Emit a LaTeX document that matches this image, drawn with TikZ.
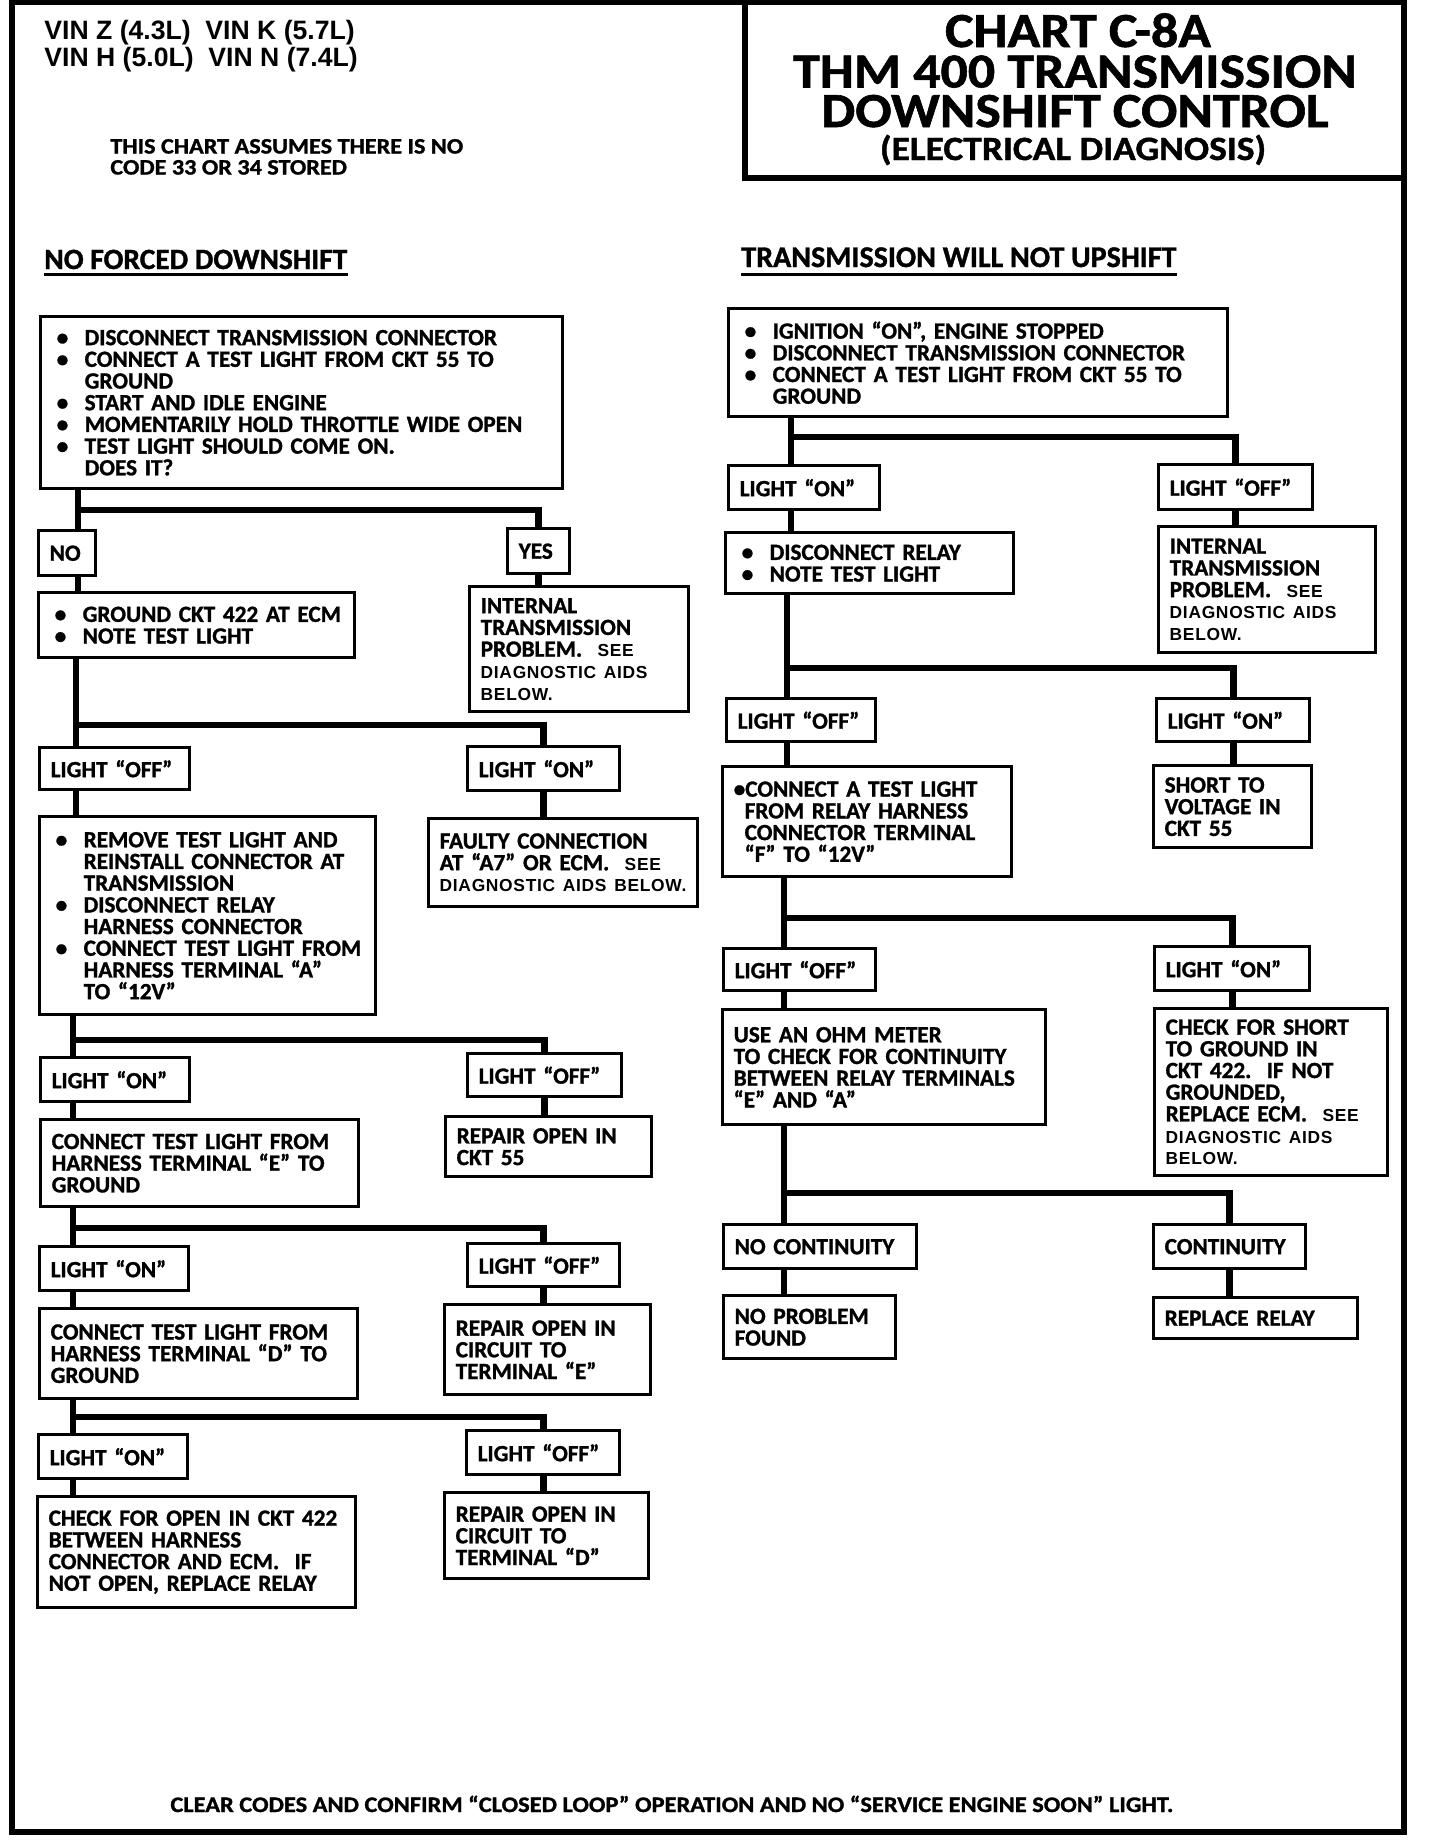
\documentclass[tikz,border=0pt]{standalone}
\usepackage{fontspec}
\setmainfont{Carlito}[Ligatures=TeX,BoldFeatures={FakeBold=1.2}]
\newfontfamily\arialfont{Liberation Sans}[Ligatures=TeX,LetterSpace=4]
\newfontfamily\vinfont{Liberation Sans}
\newfontfamily\titlefont{Carlito}[Ligatures=TeX,FakeStretch=1.1,BoldFeatures={FakeBold=1.2}]
\usetikzlibrary{calc}

\newcommand{\boxfont}{\fontsize{11.6}{10.85}\selectfont\bfseries}
\newcommand{\bl}{\makebox[16.5pt][l]{\hspace{2.5pt}\textbullet}}
\newcommand{\hg}{\hspace*{16.5pt}}
\newcommand{\see}[1]{{\arialfont\bfseries\fontsize{8.7}{10.85}\selectfont #1}}

\tikzset{
  box/.style 2 args={draw,line width=1.7pt,anchor=north west,inner xsep=5.5pt,inner ysep=0pt,
    minimum width={#1*0.5pt},minimum height={#2*0.5pt},text width={#1*0.5pt-11pt},
    align=left,font=\boxfont},
  trunk/.style={line width=3.4pt},
  frame/.style={line width=2.6pt},
  hdr/.style={anchor=base west,inner sep=0pt},
  ttl/.style={anchor=base,inner sep=0pt,text height=16pt,text depth=0pt}
}

\begin{document}
\begin{tikzpicture}[x=0.5pt,y=-0.5pt]
\useasboundingbox (0,0) rectangle (1440,1848);
\fill[white] (0,0) rectangle (1440,1848);

% frame and title block
\draw[frame] (12,2) rectangle (1404,1832);
\draw[frame] (745,2) -- (745,178) -- (1404,178);
\node[ttl,font=\titlefont\bfseries\fontsize{24.5}{20}\selectfont] (ttl1) at (1078,47) {CHART C-8A};
\node[ttl,font=\titlefont\bfseries\fontsize{24.5}{20}\selectfont] (ttl2) at (1075,87.5) {THM 400 TRANSMISSION};
\node[ttl,font=\titlefont\bfseries\fontsize{24.5}{20}\selectfont] (ttl3) at (1075,127) {DOWNSHIFT CONTROL};
\node[ttl,text height=11.5pt,text depth=3pt,font=\titlefont\bfseries\fontsize{17}{20}\selectfont] (ttl4) at (1073,160) {(ELECTRICAL DIAGNOSIS)};

% header texts
\node[hdr,font=\vinfont\bfseries\fontsize{13.3}{13.5}\selectfont] (vin1) at (44,39.5) {VIN Z (4.3L)\ \ VIN K (5.7L)};
\node[hdr,font=\vinfont\bfseries\fontsize{13.3}{13.5}\selectfont] (vin2) at (44,66.5) {VIN H (5.0L)\ \ VIN N (7.4L)};
\node[hdr,font=\titlefont\bfseries\fontsize{11}{10.5}\selectfont] (asm1) at (110,153.5) {THIS CHART ASSUMES THERE IS NO};
\node[hdr,font=\titlefont\bfseries\fontsize{11}{10.5}\selectfont] (asm2) at (110,174.5) {CODE 33 OR 34 STORED};
\node[hdr,inner ysep=2.5pt,font=\bfseries\fontsize{14.7}{14}\selectfont] (nfd) at (44,269) {NO FORCED DOWNSHIFT};
\draw[line width=1.4pt] (nfd.south west) -- (nfd.south east);
\node[hdr,inner ysep=3.5pt,font=\bfseries\fontsize{15}{14}\selectfont] (tnu) at (741,267) {TRANSMISSION WILL NOT UPSHIFT};
\draw[line width=1.4pt] (tnu.south west) -- (tnu.south east);

% left chart: no forced downshift
\node[box={522}{172}] (b1) at (39,315) {\bl DISCONNECT TRANSMISSION CONNECTOR\\
  \bl CONNECT A TEST LIGHT FROM CKT 55 TO\\ \hg GROUND\\ \bl START AND IDLE ENGINE\\
  \bl MOMENTARILY HOLD THROTTLE WIDE OPEN\\ \bl TEST LIGHT SHOULD COME ON.\\ \hg DOES IT?};
\node[box={57}{45}] (no) at (37,529) {NO};
\node[box={62}{45}] (yes) at (506,527) {YES};
\node[box={316}{65}] (gnd) at (37,591) {\bl GROUND CKT 422 AT ECM\\ \bl NOTE TEST LIGHT};
\node[box={219}{125}] (intl) at (468,585) {INTERNAL\\ TRANSMISSION\\ PROBLEM.\ \ \see{SEE}\\
  \see{DIAGNOSTIC AIDS}\\ \see{BELOW.}};
\node[box={150}{42}] (loff1) at (38,746) {LIGHT “OFF”};
\node[box={152}{44}] (lon1) at (466,745) {LIGHT “ON”};
\node[box={336}{198}] (rem) at (38,815) {\bl REMOVE TEST LIGHT AND\\ \hg REINSTALL CONNECTOR AT\\
  \hg TRANSMISSION\\ \bl DISCONNECT RELAY\\ \hg HARNESS CONNECTOR\\ \bl CONNECT TEST LIGHT FROM\\
  \hg HARNESS TERMINAL “A”\\ \hg TO “12V”};
\node[box={269}{88}] (faulty) at (427,817) {FAULTY CONNECTION\\ AT “A7” OR ECM.\ \ \see{SEE}\\
  \mbox{\see{DIAGNOSTIC AIDS BELOW.}}};
\node[box={149}{44}] (lon2) at (39,1056) {LIGHT “ON”};
\node[box={154}{43}] (loff2) at (466,1052) {LIGHT “OFF”};
\node[box={318}{87}] (conE) at (39,1118) {CONNECT TEST LIGHT FROM\\ HARNESS TERMINAL “E” TO\\ GROUND};
\node[box={206}{60}] (rep55) at (444,1115) {REPAIR OPEN IN\\ CKT 55};
\node[box={149}{44}] (lon3) at (38,1245) {LIGHT “ON”};
\node[box={152}{43}] (loff3) at (466,1242) {LIGHT “OFF”};
\node[box={318}{90}] (conD) at (38,1307) {CONNECT TEST LIGHT FROM\\ HARNESS TERMINAL “D” TO\\ GROUND};
\node[box={206}{90}] (repE) at (443,1303) {REPAIR OPEN IN\\ CIRCUIT TO\\ TERMINAL “E”};
\node[box={149}{44}] (lon4) at (37,1433) {LIGHT “ON”};
\node[box={153}{44}] (loff4) at (465,1429) {LIGHT “OFF”};
\node[box={318}{111}] (chk) at (36,1495) {CHECK FOR OPEN IN CKT 422\\ BETWEEN HARNESS\\
  CONNECTOR AND ECM.\ \ IF\\ NOT OPEN, REPLACE RELAY};
\node[box={204}{86}] (repD) at (443,1491) {REPAIR OPEN IN\\ CIRCUIT TO\\ TERMINAL “D”};

% right chart: will not upshift
\node[box={499}{108}] (r1) at (727,307) {\bl IGNITION “ON”, ENGINE STOPPED\\
  \bl DISCONNECT TRANSMISSION CONNECTOR\\ \bl CONNECT A TEST LIGHT FROM CKT 55 TO\\ \hg GROUND};
\node[box={151}{44}] (ron1) at (727,464) {LIGHT “ON”};
\node[box={154}{45}] (roff1) at (1157,463) {LIGHT “OFF”};
\node[box={288}{61}] (rdis) at (724,531) {\bl DISCONNECT RELAY\\ \bl NOTE TEST LIGHT};
\node[box={217}{126}] (rint) at (1157,525) {INTERNAL\\ TRANSMISSION\\ PROBLEM.\ \ \see{SEE}\\
  \see{DIAGNOSTIC AIDS}\\ \see{BELOW.}};
\node[box={149}{43}] (roff2) at (725,697) {LIGHT “OFF”};
\node[box={153}{43}] (ron2) at (1155,697) {LIGHT “ON”};
\node[box={289}{110}] (rcon) at (721,765) {\textbullet CONNECT A TEST LIGHT\\
  \hspace*{5.5pt}FROM RELAY HARNESS\\ \hspace*{5.5pt}CONNECTOR TERMINAL\\ \hspace*{5.5pt}“F” TO “12V”};
\node[box={158}{82}] (rshort) at (1152,764) {SHORT TO\\ VOLTAGE IN\\ CKT 55};
\node[box={152}{42}] (roff3) at (722,947) {LIGHT “OFF”};
\node[box={155}{44}] (ron3) at (1153,945) {LIGHT “ON”};
\node[box={323}{115}] (rohm) at (721,1008) {USE AN OHM METER\\ TO CHECK FOR CONTINUITY\\
  BETWEEN RELAY TERMINALS\\ “E” AND “A”};
\node[box={233}{167}] (rchk) at (1153,1007) {CHECK FOR SHORT\\ TO GROUND IN\\ CKT 422.\ \ IF NOT\\
  GROUNDED,\\ REPLACE ECM.\ \ \see{SEE}\\ \see{DIAGNOSTIC AIDS}\\ \see{BELOW.}};
\node[box={193}{44}] (rnoc) at (722,1223) {NO CONTINUITY};
\node[box={152}{44}] (rcont) at (1152,1223) {CONTINUITY};
\node[box={172}{63}] (rnop) at (722,1294) {NO PROBLEM\\ FOUND};
\node[box={204}{41}] (rrep) at (1152,1296) {REPLACE RELAY};

% footer
\node[hdr,font=\titlefont\bfseries\fontsize{11.1}{10}\selectfont] (foot) at (170,1812)
  {CLEAR CODES AND CONFIRM “CLOSED LOOP” OPERATION AND NO “SERVICE ENGINE SOON” LIGHT.};

% connectors, left chart
\coordinate (j1) at (78,510);
\draw[trunk] (b1.south -| j1) -- (no.north -| j1);
\draw[trunk] (j1) -| (yes.north);
\draw[trunk] (no.south -| j1) -- (gnd.north -| j1);
\draw[trunk] (yes.south) -- (intl.north -| yes.south);
\coordinate (j2) at (76,725);
\draw[trunk] (gnd.south -| j2) -- (loff1.north -| j2);
\draw[trunk] (j2) -| (lon1.north);
\draw[trunk] (loff1.south -| j2) -- (rem.north -| j2);
\draw[trunk] (lon1.south) -- (faulty.north -| lon1.south);
\coordinate (j3) at (73,1040);
\draw[trunk] (rem.south -| j3) -- (lon2.north -| j3);
\draw[trunk] (j3) -| (loff2.north);
\draw[trunk] (lon2.south -| j3) -- (conE.north -| j3);
\draw[trunk] (loff2.south) -- (rep55.north -| loff2.south);
\coordinate (j4) at (73,1228);
\draw[trunk] (conE.south -| j4) -- (lon3.north -| j4);
\draw[trunk] (j4) -| (loff3.north);
\draw[trunk] (lon3.south -| j4) -- (conD.north -| j4);
\draw[trunk] (loff3.south) -- (repE.north -| loff3.south);
\coordinate (j5) at (73,1417);
\draw[trunk] (conD.south -| j5) -- (lon4.north -| j5);
\draw[trunk] (j5) -| (loff4.north);
\draw[trunk] (lon4.south -| j5) -- (chk.north -| j5);
\draw[trunk] (loff4.south) -- (repD.north -| loff4.south);

% connectors, right chart
\coordinate (j6) at (791,437);
\draw[trunk] (r1.south -| j6) -- (ron1.north -| j6);
\draw[trunk] (j6) -| (roff1.north);
\draw[trunk] (ron1.south -| j6) -- (rdis.north -| j6);
\draw[trunk] (roff1.south) -- (rint.north -| roff1.south);
\coordinate (j7) at (787,668);
\draw[trunk] (rdis.south -| j7) -- (roff2.north -| j7);
\draw[trunk] (j7) -| (ron2.north);
\draw[trunk] (roff2.south -| j7) -- (rcon.north -| j7);
\draw[trunk] (ron2.south) -- (rshort.north -| ron2.south);
\coordinate (j8) at (784,918);
\draw[trunk] (rcon.south -| j8) -- (roff3.north -| j8);
\draw[trunk] (j8) -| (ron3.north);
\draw[trunk] (roff3.south -| j8) -- (rohm.north -| j8);
\draw[trunk] (ron3.south) -- (rchk.north -| ron3.south);
\coordinate (j9) at (784,1193);
\draw[trunk] (rohm.south -| j9) -- (rnoc.north -| j9);
\draw[trunk] (j9) -| (rcont.north);
\draw[trunk] (rnoc.south -| j9) -- (rnop.north -| j9);
\draw[trunk] (rcont.south) -- (rrep.north -| rcont.south);
\end{tikzpicture}
\end{document}
